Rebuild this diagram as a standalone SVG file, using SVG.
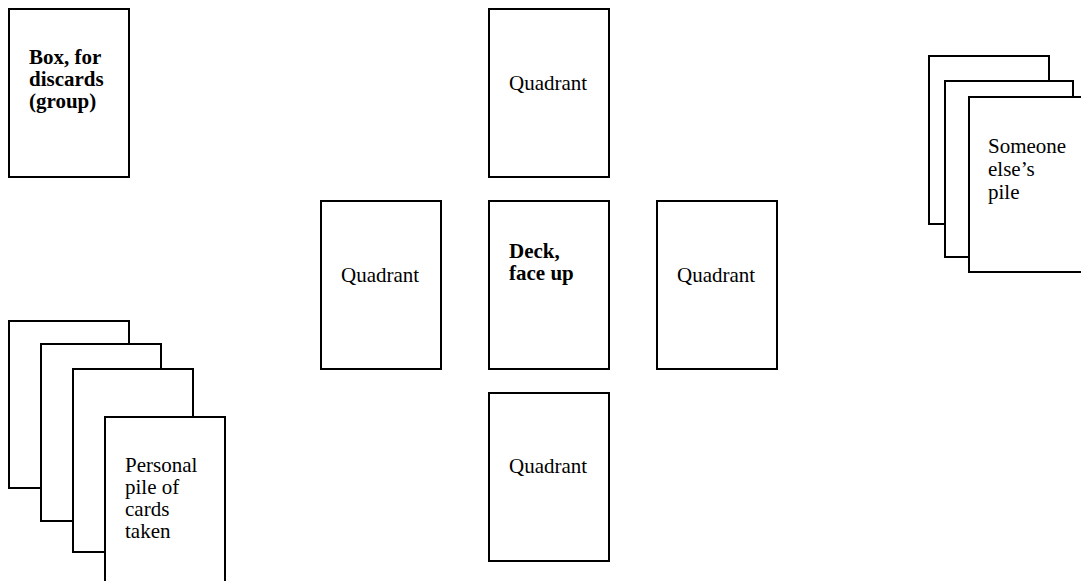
<svg xmlns="http://www.w3.org/2000/svg" width="1081" height="581" viewBox="0 0 1081 581">
<style>
.card{fill:#fff;stroke:#000;stroke-width:2}
.t{font-family:'Liberation Serif','Times New Roman',Times,'DejaVu Serif',serif;font-size:21px;fill:#000}
.b{font-weight:bold}
</style>
<rect width="1081" height="581" fill="#fff"/>
<g id="box-discards">
<rect class="card" x="9" y="9" width="120" height="168"/>
<text class="t b" x="29" y="64">Box, for</text>
<text class="t b" x="29" y="86">discards</text>
<text class="t b" x="29" y="108">(group)</text>
</g>
<g id="quadrant-top">
<rect class="card" x="489" y="9" width="120" height="168"/>
<text class="t" x="509" y="90">Quadrant</text>
</g>
<g id="quadrant-left">
<rect class="card" x="321" y="201" width="120" height="168"/>
<text class="t" x="341" y="282">Quadrant</text>
</g>
<g id="deck">
<rect class="card" x="489" y="201" width="120" height="168"/>
<text class="t b" x="509" y="258">Deck,</text>
<text class="t b" x="509" y="280">face up</text>
</g>
<g id="quadrant-right">
<rect class="card" x="657" y="201" width="120" height="168"/>
<text class="t" x="677" y="282">Quadrant</text>
</g>
<g id="quadrant-bottom">
<rect class="card" x="489" y="393" width="120" height="168"/>
<text class="t" x="509" y="473">Quadrant</text>
</g>
<g id="someone-else-pile">
<rect class="card" x="929" y="56" width="120" height="168"/>
<rect class="card" x="945" y="81" width="128" height="176"/>
<rect class="card" x="969" y="97" width="128" height="175"/>
<text class="t" x="988" y="153">Someone</text>
<text class="t" x="988" y="176">else’s</text>
<text class="t" x="988" y="199">pile</text>
</g>
<g id="personal-pile">
<rect class="card" x="9" y="321" width="120" height="167"/>
<rect class="card" x="41" y="344" width="120" height="177"/>
<rect class="card" x="73" y="369" width="120" height="183"/>
<rect class="card" x="105" y="417" width="120" height="180"/>
<text class="t" x="125" y="472">Personal</text>
<text class="t" x="125" y="494">pile of</text>
<text class="t" x="125" y="516">cards</text>
<text class="t" x="125" y="538">taken</text>
</g>
<g id="connectors"></g>
</svg>
